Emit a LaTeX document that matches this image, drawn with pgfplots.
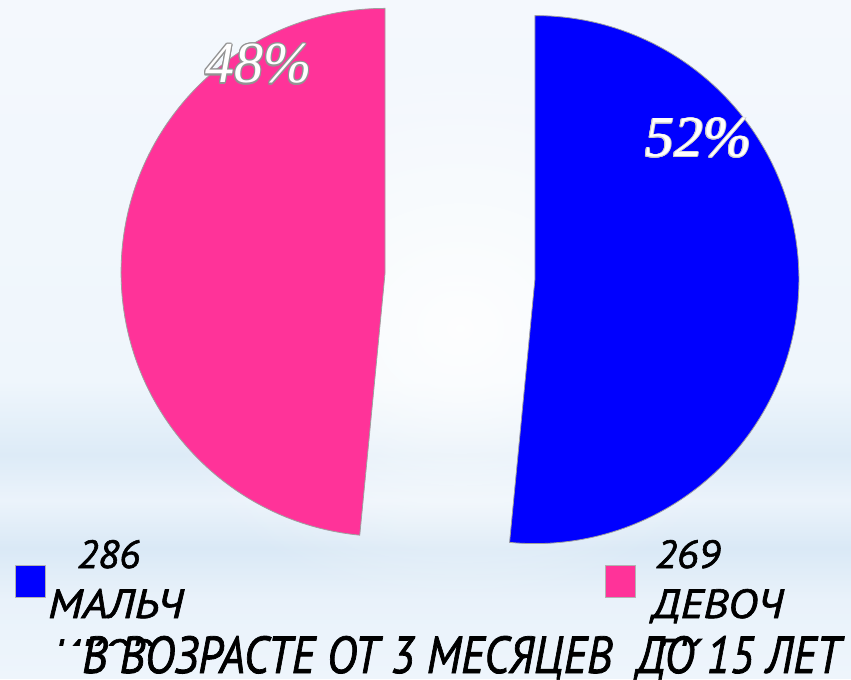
\documentclass[border=0pt]{standalone}
\usepackage{pgfplots}
\pgfplotsset{compat=1.18}
\usepackage{pgfplotstable}
\usepackage{fontspec}
\setmainfont{PT Sans}
\usetikzlibrary{fadings}
\definecolor{boyblue}{RGB}{0,0,255}
\definecolor{girlpink}{RGB}{255,51,153}
\definecolor{bgA}{RGB}{244,248,253}
\definecolor{bgB}{RGB}{239,246,252}
\definecolor{bgC}{RGB}{221,235,247}
\definecolor{bgD}{RGB}{235,243,251}
\definecolor{bgE}{RGB}{218,233,246}
\definecolor{bgF}{RGB}{233,242,250}
\definecolor{bgG}{RGB}{238,245,252}
\pgfdeclareverticalshading{bgshade}{100bp}{color(0bp)=(bgG); color(25bp)=(bgG); color(30.75bp)=(bgF); color(34.59bp)=(bgE); color(38.13bp)=(bgD); color(41.45bp)=(bgC); color(46.98bp)=(bgB); color(75bp)=(bgA); color(100bp)=(bgA)}
\tikzfading[name=glow, inner color=transparent!0, outer color=transparent!100]
\newcommand\pctfnt{\fontspec{Liberation Serif}\itshape\fontsize{58}{58}\selectfont}
\newcommand\hvy{\fontspec{PT Sans}[FakeBold=1.5]\itshape}

\pgfplotstableread{
group count
boys 286
girls 269
}\piedata

\begin{document}
\begin{tikzpicture}
\pgfplotstablegetelem{0}{count}\of\piedata \edef\nb{\pgfplotsretval}
\pgfplotstablegetelem{1}{count}\of\piedata \edef\ng{\pgfplotsretval}
\pgfmathsetmacro\fb{\nb/(\nb+\ng)}
\pgfmathsetmacro\angb{360*\fb}
\pgfmathsetmacro\endb{90-\angb}
\pgfmathsetmacro\endg{\endb+360}
\pgfmathsetmacro\midb{90-\angb/2}
\pgfmathsetmacro\bcx{460+75*cos(\midb)}
\pgfmathsetmacro\bcy{402+75*sin(\midb)}
\pgfmathsetmacro\gcx{460-75*cos(\midb)}
\pgfmathsetmacro\gcy{402-75*sin(\midb)}
\pgfmathparse{int(round(100*\fb))}\edef\pb{\pgfmathresult}
\pgfmathparse{int(100-\pb)}\edef\pg{\pgfmathresult}
\shade[shading=bgshade] (0,0) rectangle (851pt,678pt);
\fill[white, path fading=glow, fill opacity=0.9] (460pt,350pt) ellipse [x radius=320pt, y radius=280pt];
\begin{axis}[at={(0,0)}, anchor=south west, width=851pt, height=678pt,
  scale only axis, hide axis, xmin=0, xmax=851, ymin=0, ymax=678, clip=false]
\path[fill=boyblue, draw=gray!75, line width=0.8pt] (axis cs:\bcx,\bcy) -- ++(90:264pt)
  arc[start angle=90, end angle=\endb, radius=264pt] -- cycle;
\path[fill=girlpink, draw=gray!75, line width=0.8pt] (axis cs:\gcx,\gcy) -- ++(90:264pt)
  arc[start angle=90, end angle=\endg, radius=264pt] -- cycle;
\end{axis}
% percentage labels with outline
\tikzset{pct/.style={anchor=base west, inner sep=0}}
\foreach \a in {0,30,...,330} {
  \node[pct, text=gray!85] at ([shift={(\a:1.2pt)}]205pt,595pt) {\pctfnt\pg\%};
  \node[pct, text=gray!40] at ([shift={(\a:0.9pt)}]645pt,521pt) {\pctfnt\pb\%};
}
\node[pct, text=white] at (205pt,595pt) {\pctfnt\pg\%};
\node[pct, text=white] at (645pt,521pt) {\pctfnt\pb\%};
% legend
\path[fill=boyblue, draw=gray!60, line width=0.5pt] (15pt,81pt) rectangle (45pt,113pt);
\path[fill=girlpink, draw=gray!60, line width=0.5pt] (605pt,81pt) rectangle (635pt,113pt);
\node[anchor=base west, inner sep=0] at (77pt,110pt) {\resizebox{63pt}{28pt}{\hvy \nb}};
\node[anchor=base west, inner sep=0] at (48pt,60pt) {\resizebox{135pt}{29pt}{\hvy МАЛЬЧ}};
\node[anchor=base west, inner sep=0] at (655pt,110pt) {\resizebox{65pt}{28pt}{\hvy \ng}};
\node[anchor=base west, inner sep=0] at (652pt,60pt) {\resizebox{131pt}{29pt}{\hvy ДЕВОЧ}};
\begin{scope}
\clip (0,33pt) rectangle (851pt,60pt);
\node[anchor=base west, inner sep=0] at (53pt,10pt) {\resizebox{!}{29pt}{\hvy ИКОВ}};
\node[anchor=base west, inner sep=0] at (655pt,10pt) {\resizebox{!}{29pt}{\hvy ЕК}};
\end{scope}
% title
\node[anchor=base west, inner sep=0] at (82pt,5pt)
  {\resizebox{758pt}{37pt}{\hvy В ВОЗРАСТЕ ОТ 3 МЕСЯЦЕВ\ \ ДО 15 ЛЕТ}};
\end{tikzpicture}
\end{document}
